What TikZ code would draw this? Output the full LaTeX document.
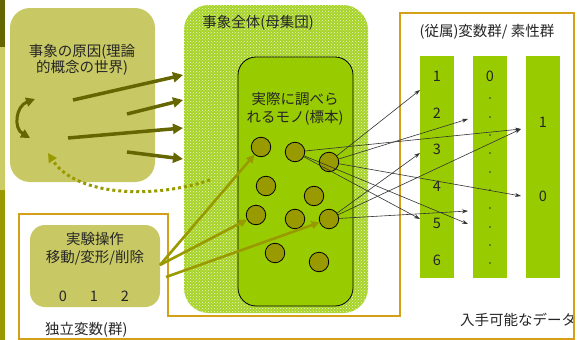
\documentclass[tikz,border=0pt]{standalone}
\usepackage{fontspec}
\setmainfont{Noto Sans CJK JP}
\usetikzlibrary{arrows.meta,patterns}
\definecolor{darkol}{HTML}{666600}
\definecolor{olivetwo}{HTML}{999900}
\definecolor{lightol}{HTML}{CCCC66}
\definecolor{boxol}{HTML}{C8C864}
\definecolor{grn}{HTML}{99CC00}
\definecolor{popg}{HTML}{A6D326}
\definecolor{frameor}{HTML}{D4A017}
\begin{document}
\begin{tikzpicture}[x=1pt,y=-1pt,
  txt/.style={inner sep=0, text=black!85, font=\fontsize{14.5}{18}\selectfont},
  smp/.style={circle, draw=black, line width=0.8pt, fill=olivetwo, minimum size=19.5pt, inner sep=0},
  thinarr/.style={draw=black!80, line width=0.6pt, -{Stealth[length=6pt,width=4pt]}},
  fat/.style={draw=darkol, line width=3.5pt, -{Triangle[length=10pt,width=10pt]}},
  exar/.style={draw=olivetwo, line width=2.6pt, -{Triangle[length=8pt,width=8pt]}},
  colbar/.style={fill=grn, minimum width=34pt, minimum height=222pt, inner sep=0}]
\useasboundingbox (0,0) rectangle (587,340);
\fill[white] (0,0) rectangle (587,340);
% left strip
\fill[darkol] (0,0) rectangle (5,47);
\fill[lightol] (0,47) rectangle (5,190);
\fill[olivetwo] (0,190) rectangle (5,340);

% cause box
\node[fill=boxol, rounded corners=20pt, minimum width=145pt, minimum height=174pt, inner sep=0] (cause) at (82.5,95) {};
\node[txt, align=center, font=\fontsize{14.5}{16}\selectfont] (causet) at (82,60) {事象の原因(理論\\的概念の世界)};

% population
\node[rounded corners=25pt, minimum width=184pt, minimum height=308pt, inner sep=0, fill=popg,
      postaction={pattern=crosshatch dots, pattern color=white!80!popg}] (pop) at (276,159) {};
\node[txt] (popt) at (258,23) {事象全体(母集団)};

% sample
\node[draw=black, line width=0.8pt, fill=grn, rounded corners=18pt, minimum width=115pt, minimum height=249pt, inner sep=0] (sample) at (295.5,181.5) {};
\node[txt, align=center] (samplet) at (295,109) {実際に調べら\\れるモノ(標本)};

\node[smp] (c1) at (261,147) {};
\node[smp] (c2) at (295,152) {};
\node[smp] (c3) at (329,162) {};
\node[smp] (c4) at (266,186) {};
\node[smp] (c5) at (314,196) {};
\node[smp] (c6) at (256,215) {};
\node[smp] (c7) at (295,219) {};
\node[smp] (c8) at (329,219) {};
\node[smp] (c9) at (275,253) {};
\node[smp] (c10) at (319,262) {};

% frame
\draw[frameor, line width=2pt] (18.5,340) -- (18.5,214) -- (168,214) -- (168,316) -- (400,316) -- (400,13) -- (574,13) -- (574,339) -- (18.5,339);

% experiment box
\node[fill=boxol, rounded corners=15pt, minimum width=130pt, minimum height=82pt, inner sep=0] (exp) at (95,266) {};
\node[txt, align=center] (expt) at (95,249) {実験操作\\移動/変形/削除};
\node[txt] (v0) at (63,296) {0};
\node[txt] (v1) at (94,296) {1};
\node[txt] (v2) at (125,296) {2};
\node[txt, anchor=west] (indep) at (45,330) {独立変数(群)};

% data columns
\node[colbar] (col1) at (437,167) {};
\node[colbar] (col2) at (490,167) {};
\node[colbar] (col3) at (543,167) {};
\node[txt] (datat) at (487,32) {(従属)変数群/ 素性群};
\node[txt] (n1) at (437,76) {1};
\node[txt] (n2) at (437,113) {2};
\node[txt] (n3) at (437,149) {3};
\node[txt] (n4) at (437,186) {4};
\node[txt] (n5) at (437,223) {5};
\node[txt] (n6) at (437,260) {6};
\node[txt] (m0) at (490,76) {0};
\foreach \yy [count=\i] in {98,117,135,153,172,190,208,227,245,263}
  \fill[black!80] (490,\yy) circle (0.9pt);
\node[txt] (p1) at (543,122) {1};
\node[txt] (p0) at (543,196) {0};
\node[txt, anchor=west] (avail) at (460,320) {入手可能なデータ};
\draw[frameor, line width=2pt] (574,300) -- (574,339);

% cause arrows
\coordinate (a1s) at (73,100);  \coordinate (a1e) at (183,75);
\coordinate (a2s) at (127,114); \coordinate (a2e) at (183,100);
\coordinate (a3s) at (68,138);  \coordinate (a3e) at (183,128);
\coordinate (a4s) at (127,152); \coordinate (a4e) at (183,159);
\draw[fat] (a1s) -- (a1e);
\draw[fat] (a2s) -- (a2e);
\draw[fat] (a3s) -- (a3e);
\draw[fat] (a4s) -- (a4e);

% curved double arrow
\coordinate (ca) at (35,99);
\coordinate (cb) at (30,138);
\draw[draw=darkol, line width=3pt, {Triangle[length=9pt,width=9pt]}-{Triangle[length=9pt,width=9pt]}] (ca) .. controls (16,106) and (13,128) .. (cb);

% dotted feedback
\coordinate (ds) at (210,180);
\coordinate (de) at (48,153);
\draw[draw=olivetwo, line width=3pt, dash pattern=on 3pt off 3pt, -{Triangle[length=9pt,width=9pt]}] (ds) .. controls (150,200) and (75,195) .. (de);

% experiment arrows
\coordinate (e1) at (160,265);
\coordinate (e2) at (166,277);
\draw[exar] (e1) -- (c1);
\draw[exar] (e1) -- (c6);
\draw[exar] (e2) -- (c8);

% data arrows
\coordinate (t1) at (420,90);
\coordinate (t2) at (468,119);
\coordinate (t3) at (521,129);
\coordinate (t4) at (420,153);
\coordinate (t5) at (521,196);
\coordinate (t6) at (420,219);
\coordinate (t7) at (468,224);
\coordinate (t8) at (468,211);
\draw[thinarr] (c2) -- (t3);
\draw[thinarr] (c2) -- (t7);
\draw[thinarr] (c2) -- (t6);
\draw[thinarr] (c3) -- (t1);
\draw[thinarr] (c3) -- (t2);
\draw[thinarr] (c3) -- (t5);
\draw[thinarr] (c8) -- (t4);
\draw[thinarr] (c8) -- (t3);
\draw[thinarr] (c8) -- (t8);
\end{tikzpicture}
\end{document}
